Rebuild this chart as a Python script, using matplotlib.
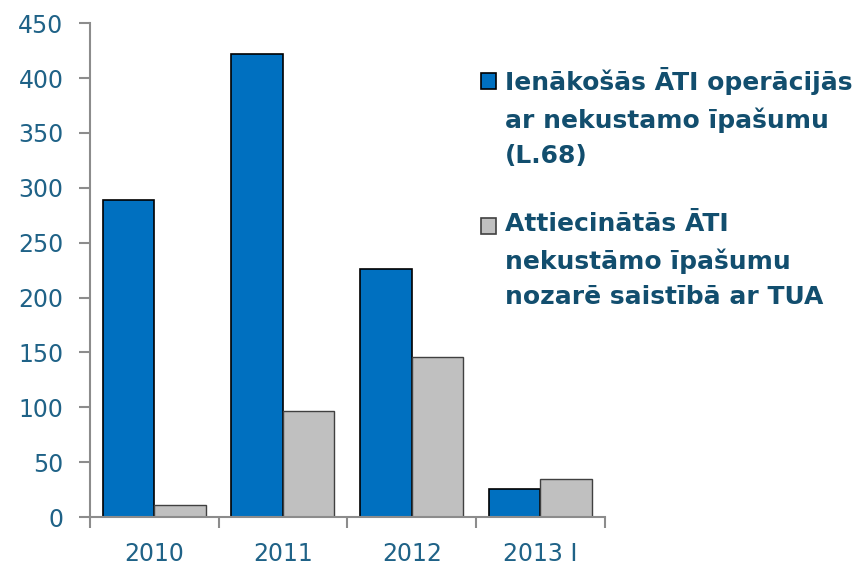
import numpy as np
import matplotlib.pyplot as plt
from matplotlib.patches import Rectangle

plt.rcParams['font.family'] = ['DejaVu Sans']

years = ['2010', '2011', '2012', '2013 I']
incoming = [289, 422, 226, 26]      # Ienākošās ĀTI operācijās ar nekustamo īpašumu (L.68)
attributed = [11, 97, 146, 35]      # Attiecinātās ĀTI nekustāmo īpašumu nozarē saistībā ar TUA
labels = ['Ienākošās ĀTI operācijās\nar nekustamo īpašumu\n(L.68)',
          'Attiecinātās ĀTI\nnekustāmo īpašumu\nnozarē saistībā ar TUA']

tick_col = '#1F6287'
leg_col = '#124E6E'
axis_col = '#8C8C8C'

fig = plt.figure(figsize=(8.64, 5.67), dpi=100)
ax = fig.add_axes([0.104, 0.088, 0.596, 0.871])

x = np.arange(len(years))
w = 0.4
ax.bar(x - w/2, incoming, w, color='#0070C0', edgecolor='black', linewidth=1.2)
ax.bar(x + w/2, attributed, w, color='#C0C0C0', edgecolor='#404040', linewidth=1.0)

ax.set_xlim(-0.5, len(years) - 0.5)
ax.set_ylim(0, 450)
ax.set_yticks(np.arange(0, 451, 50))
ax.set_xticks(x)
ax.set_xticklabels(years)
ax.set_xticks(np.arange(-0.5, len(years)), minor=True)
ax.tick_params(axis='x', which='major', length=0, pad=18, labelsize=17, labelcolor=tick_col)
ax.tick_params(axis='x', which='minor', length=8, width=1.5, color=axis_col, direction='out')
ax.tick_params(axis='y', length=8, width=1.5, color=axis_col, direction='out', pad=11,
               labelsize=17, labelcolor=tick_col)
for s in ['top', 'right']:
    ax.spines[s].set_visible(False)
for s in ['left', 'bottom']:
    ax.spines[s].set_color(axis_col)
    ax.spines[s].set_linewidth(1.5)

# legend drawn by hand to keep the box next to the first line of each label
colors = [('#0070C0', 'black'), ('#C0C0C0', '#404040')]
box_tops = [73, 218]
for (fc, ec), lab, bt in zip(colors, labels, box_tops):
    fig.patches.append(Rectangle((481/864, 1 - (bt + 16)/567), 15/864, 16/567,
                                 transform=fig.transFigure,
                                 facecolor=fc, edgecolor=ec, linewidth=1.2))
    fig.text(505/864, 1 - (bt - 6)/567, lab, ha='left', va='top', fontsize=18,
             fontweight='bold', color=leg_col, linespacing=1.6)

plt.savefig('out.png', dpi=100)
